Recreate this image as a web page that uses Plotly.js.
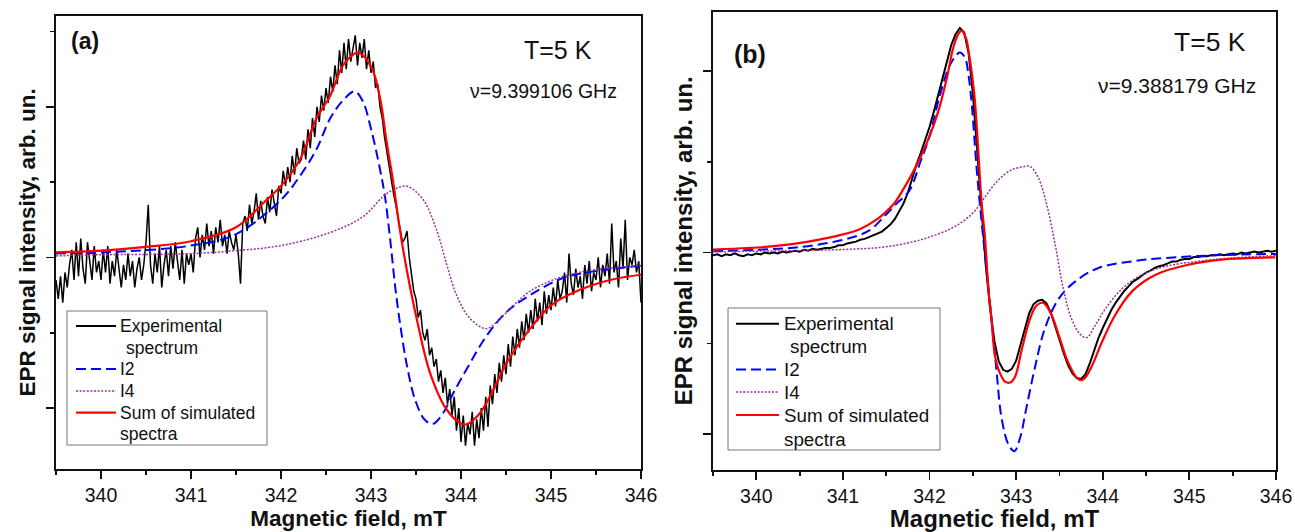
<!DOCTYPE html>
<html>
<head>
<meta charset="utf-8">
<script src="https://cdn.plot.ly/plotly-3.0.1.min.js"></script>
<style>
html,body{margin:0;padding:0;background:#fff;}
#chart{width:1295px;height:532px;}
</style>
</head>
<body>
<div id="chart"></div>
<script>
// ---------------- Panel (a) data ----------------
// experimental spectrum (a): field starts at 339.5 mT, step 0.025 mT
const expA = [
 -0.30,-0.55,-0.25,-0.60,-0.20,-0.40,-0.10, 0.10,-0.30, 0.20,
 -0.25, 0.25,-0.15,-0.35, 0.20,-0.10,-0.30, 0.15,-0.20,-0.05,
 -0.30, 0.10,-0.20, 0.15,-0.35,-0.05,-0.25, 0.10,-0.15,-0.40,
 -0.10,-0.30, 0.05,-0.25,-0.05,-0.40,-0.15, 0.00,-0.30,-0.10,
  0.20, 0.70,-0.10,-0.35, 0.05,-0.20, 0.15,-0.40,-0.10, 0.10,
 -0.25, 0.15,-0.15, 0.20,-0.05,-0.30, 0.10,-0.35, 0.05,-0.10,
  0.05,-0.20, 0.25, 0.40, 0.00, 0.30, 0.10, 0.45, 0.15, 0.35,
  0.05, 0.40, 0.20, 0.50, 0.15, 0.30, 0.05, 0.35, 0.20, 0.10,
  0.30, 0.05,-0.35, 0.45, 0.55, 0.35, 0.70, 0.45, 0.60, 0.85,
  0.50, 0.75, 0.55, 0.45, 0.80, 0.60, 0.90, 0.70, 0.55, 0.95,
  0.85, 1.15, 0.95, 1.20, 1.00, 1.35, 1.10, 1.45, 1.25, 1.30,
  1.55, 1.30, 1.70, 1.45, 1.85, 1.60, 2.00, 1.80, 2.15, 1.95,
  2.25, 2.05, 2.40, 2.20, 2.55, 2.30, 2.75, 2.45, 2.85, 2.50,
  2.90, 2.60, 2.80, 2.95, 2.55, 2.85, 2.65, 2.90, 2.50, 2.75,
  2.45, 2.60, 2.25, 2.30, 2.00, 1.85, 1.60, 1.40, 1.25, 1.05,
  0.85, 0.70, 0.55, 0.35, 0.20, 0.25, 0.35, 0.00,-0.25,-0.45,
 -0.55,-0.80,-0.70,-1.00,-1.10,-0.95,-1.30,-1.20,-1.45,-1.35,
 -1.65,-1.50,-1.80,-1.60,-1.95,-1.75,-2.10,-1.85,-2.30,-2.00,
 -2.45,-2.10,-2.50,-2.20,-2.35,-2.05,-2.50,-2.15,-2.40,-2.00,
 -2.30,-1.85,-2.25,-1.70,-1.95,-1.55,-1.80,-1.40,-1.65,-1.30,
 -1.55,-1.15,-1.45,-1.05,-1.30,-0.95,-1.20,-0.85,-1.10,-0.75,
 -1.00,-0.70,-0.95,-0.55,-0.85,-0.60,-0.90,-0.45,-0.75,-0.50,
 -0.70,-0.40,-0.65,-0.30,-0.55,-0.45,-0.20,-0.60, 0.05,-0.35,
 -0.50,-0.15,-0.40,-0.25,-0.55,-0.10,-0.35,-0.05,-0.45,-0.20,
 -0.30, 0.00,-0.40,-0.10,-0.25, 0.05,-0.35, 0.45,-0.20,-0.05,
 -0.40, 0.25,-0.15, 0.50,-0.30, 0.00,-0.10, 0.10,-0.20,-0.05,-0.60
];
const fieldA_I2 = [339.5,340.0,341.0,341.5,342.0,342.21,342.396,342.544,342.7,342.82,342.91,343.0,343.1,343.155,343.21,343.27,343.32,343.4,343.49,343.6,343.69,343.8,343.915,344.06,344.285,344.51,344.77,345.14,345.51,346.0];
const valA_I2   = [0.053,0.066,0.157,0.31,0.765,1.08,1.44,1.84,2.10,2.205,2.07,1.71,1.17,0.81,0.27,-0.40,-0.855,-1.44,-1.89,-2.16,-2.21,-2.07,-1.80,-1.49,-1.04,-0.72,-0.50,-0.27,-0.18,-0.11];
const fieldA_I4 = [339.5,340.0,341.0,341.5,342.0,342.544,342.91,343.136,343.25,343.4,343.58,343.73,343.84,343.95,344.1,344.285,344.47,344.766,345.14,345.51,346.0];
const valA_I4   = [0.02,0.035,0.05,0.09,0.157,0.33,0.54,0.81,0.90,0.945,0.765,0.36,-0.09,-0.50,-0.81,-0.946,-0.77,-0.45,-0.25,-0.16,-0.11];
const fieldA_Sum = [339.5,340.0,340.5,341.0,341.5,341.84,342.0,342.21,342.396,342.544,342.7,342.859,343.007,343.1,343.174,343.248,343.322,343.414,343.507,343.655,343.84,344.007,344.063,344.21,344.396,344.507,344.766,345.007,345.322,345.692,346.0];
const valA_Sum   = [0.066,0.09,0.14,0.215,0.40,0.765,0.95,1.30,1.85,2.14,2.57,2.72,2.52,2.12,1.53,0.99,0.36,-0.27,-0.81,-1.53,-2.02,-2.21,-2.215,-2.07,-1.67,-1.40,-0.95,-0.63,-0.43,-0.29,-0.23];

// ---------------- Panel (b) data ----------------
// experimental spectrum (b): field starts at 339.5 mT, step 0.05 mT
const expB = [
 -0.03,-0.02,-0.04,-0.02,-0.03,-0.01,-0.03,-0.04,-0.02,-0.03,
 -0.01,-0.02, 0.00,-0.01, 0.00,-0.01, 0.01, 0.00, 0.01, 0.02,
  0.01, 0.03, 0.02, 0.04, 0.03, 0.04, 0.05, 0.05, 0.06, 0.08,
  0.08, 0.10, 0.11, 0.12, 0.14, 0.15, 0.17, 0.19, 0.21, 0.23,
  0.27, 0.31, 0.37, 0.45, 0.54, 0.66, 0.83, 0.97, 1.10, 1.24,
  1.38, 1.55, 1.73, 1.92, 2.12, 2.28, 2.40, 2.47, 2.42, 2.20,
  1.75, 1.10, 0.45,-0.15,-0.62,-0.98,-1.20,-1.29,-1.31,-1.28,
 -1.19,-1.02,-0.83,-0.67,-0.57,-0.53,-0.52,-0.56,-0.66,-0.80,
 -0.96,-1.11,-1.24,-1.33,-1.38,-1.39,-1.34,-1.22,-1.07,-0.94,
 -0.83,-0.73,-0.63,-0.55,-0.48,-0.42,-0.37,-0.32,-0.29,-0.25,
 -0.22,-0.20,-0.17,-0.15,-0.14,-0.12,-0.10,-0.10,-0.08,-0.07,
 -0.07,-0.05,-0.05,-0.04,-0.04,-0.03,-0.03,-0.02,-0.03,-0.02,
 -0.01,-0.02, 0.00,-0.01, 0.00, 0.01, 0.00, 0.01, 0.02, 0.01, 0.02
];
const fieldB_I2 = [339.5,340.0,340.5,341.0,341.3,341.47,341.6,341.77,341.89,342.0,342.12,342.24,342.35,342.41,342.45,342.49,342.545,342.6,342.66,342.72,342.776,342.83,342.91,342.98,343.045,343.12,343.22,343.33,343.49,343.68,343.95,344.335,344.72,345.3,346.0];
const valB_I2   = [0.015,0.03,0.06,0.14,0.24,0.39,0.52,0.686,0.985,1.28,1.73,2.07,2.20,2.14,1.95,1.60,0.91,0.35,-0.21,-0.77,-1.33,-1.81,-2.11,-2.186,-2.04,-1.70,-1.25,-0.84,-0.51,-0.32,-0.17,-0.097,-0.06,-0.03,-0.015];
const fieldB_I4 = [339.5,340.0,341.0,341.47,341.77,342.0,342.24,342.41,342.525,342.64,342.795,342.95,343.064,343.16,343.257,343.35,343.45,343.545,343.64,343.74,343.815,343.91,344.03,344.22,344.45,344.72,345.1,345.49,346.0];
const valB_I4   = [0.008,0.015,0.033,0.06,0.11,0.17,0.26,0.36,0.46,0.61,0.80,0.91,0.94,0.947,0.82,0.537,0.09,-0.40,-0.73,-0.90,-0.936,-0.805,-0.62,-0.40,-0.246,-0.153,-0.097,-0.06,-0.035];
const fieldB_Sum = [339.5,339.9,340.2,340.6,341.0,341.2,341.4,341.5,341.6,341.7,341.8,341.9,342.0,342.1,342.2,342.27,342.32,342.37,342.42,342.46,342.49,342.525,342.564,342.602,342.64,342.68,342.718,342.756,342.814,342.872,342.93,342.987,343.064,343.16,343.238,343.315,343.41,343.507,343.603,343.719,343.777,343.873,343.988,344.142,344.335,344.604,344.989,345.374,345.99];
const valB_Sum   = [0.033,0.05,0.07,0.12,0.20,0.26,0.37,0.45,0.55,0.70,0.87,1.06,1.28,1.55,1.92,2.24,2.38,2.44,2.36,2.16,1.96,1.656,1.097,0.537,0.164,-0.396,-0.77,-1.14,-1.33,-1.42,-1.43,-1.365,-1.07,-0.73,-0.58,-0.555,-0.69,-0.955,-1.215,-1.395,-1.395,-1.25,-0.99,-0.69,-0.43,-0.246,-0.134,-0.078,-0.053];

// ---------------- text ----------------
const xTitle = 'Magnetic field, mT';
const yTitle = 'EPR signal intensity, arb. un.';
const legendNames = ['Experimental', ' spectrum', 'I2', 'I4', 'Sum of simulated', 'spectra'];
const panelLabels = ['(a)', '(b)'];
const tempLabel = 'T=5 K';
const freqLabels = ['\u03bd=9.399106 GHz', '\u03bd=9.388179 GHz'];

// ---------------- styling ----------------
const W = 1295, H = 532;
const FONT = '"Liberation Sans", Arial, Helvetica, sans-serif';
const INK = '#111111';
const C_EXP = '#000000', C_I2 = '#0000ff', C_I4 = '#9b2f9b', C_SUM = '#ff0000';
const DASH_I2 = '10px,5px', DASH_I4 = '2px,1.6px';
const px = v => v / W;
const py = v => 1 - v / H;

function xAxis(domain, anchor, titleSize, standoff){
  return {
    domain: domain, anchor: anchor, range: [339.5, 346], autorange: false,
    tick0: 340, dtick: 1, ticks: 'outside', ticklen: 8, tickwidth: 1.8, tickcolor: INK,
    showline: true, linewidth: 1.8, linecolor: INK, mirror: true,
    showgrid: false, zeroline: false, automargin: false,
    tickfont: {family: FONT, size: 19.5, color: INK},
    minor: {dtick: 0.5, tick0: 340, ticks: 'outside', ticklen: 4, tickwidth: 1.8, tickcolor: INK, showgrid: false},
    title: {text: '<b>' + xTitle + '</b>', font: {family: FONT, size: titleSize, color: INK}, standoff: standoff}
  };
}
function yAxis(domain, anchor, range, titleSize){
  return {
    domain: domain, anchor: anchor, range: range, autorange: false,
    tick0: 0, dtick: 2, ticks: 'outside', ticklen: 8, tickwidth: 1.8, tickcolor: INK,
    showticklabels: false,
    showline: true, linewidth: 1.8, linecolor: INK, mirror: true,
    showgrid: false, zeroline: false, automargin: false,
    minor: {dtick: 1, tick0: 0, ticks: 'outside', ticklen: 4, tickwidth: 1.8, tickcolor: INK, showgrid: false},
    title: {text: '<b>' + yTitle + '</b>', font: {family: FONT, size: titleSize, color: INK}, standoff: 4}
  };
}

const traces = [
  {x0: 339.5, dx: 0.025, y: expA, xaxis: 'x', yaxis: 'y', mode: 'lines', name: 'Experimental spectrum',
   line: {color: C_EXP, width: 1.5}, showlegend: false},
  {x: fieldA_I2, y: valA_I2, xaxis: 'x', yaxis: 'y', mode: 'lines', name: 'I2',
   line: {color: C_I2, width: 2, dash: DASH_I2, shape: 'spline', smoothing: 1}, showlegend: false},
  {x: fieldA_I4, y: valA_I4, xaxis: 'x', yaxis: 'y', mode: 'lines', name: 'I4',
   line: {color: C_I4, width: 1.5, dash: DASH_I4, shape: 'spline', smoothing: 1}, showlegend: false},
  {x: fieldA_Sum, y: valA_Sum, xaxis: 'x', yaxis: 'y', mode: 'lines', name: 'Sum of simulated spectra',
   line: {color: C_SUM, width: 2.2, shape: 'spline', smoothing: 1}, showlegend: false},

  {x0: 339.5, dx: 0.05, y: expB, xaxis: 'x2', yaxis: 'y2', mode: 'lines', name: 'Experimental spectrum',
   line: {color: C_EXP, width: 2}, showlegend: false},
  {x: fieldB_I2, y: valB_I2, xaxis: 'x2', yaxis: 'y2', mode: 'lines', name: 'I2',
   line: {color: C_I2, width: 2, dash: DASH_I2, shape: 'spline', smoothing: 1}, showlegend: false},
  {x: fieldB_I4, y: valB_I4, xaxis: 'x2', yaxis: 'y2', mode: 'lines', name: 'I4',
   line: {color: C_I4, width: 1.5, dash: DASH_I4, shape: 'spline', smoothing: 1}, showlegend: false},
  {x: fieldB_Sum, y: valB_Sum, xaxis: 'x2', yaxis: 'y2', mode: 'lines', name: 'Sum of simulated spectra',
   line: {color: C_SUM, width: 2.2, shape: 'spline', smoothing: 1}, showlegend: false}
];

// manual legend boxes (pixel geometry converted to paper coords)
const shapes = [];
const annotations = [];
function legendBox(box, sx0, sx1, tx, indent, ys, fsize){
  shapes.push({type: 'rect', xref: 'paper', yref: 'paper', x0: px(box[0]), x1: px(box[1]), y0: py(box[3]), y1: py(box[2]),
               line: {color: '#777777', width: 1}, fillcolor: 'rgba(255,255,255,0)', layer: 'above'});
  const styles = [
    {color: C_EXP, width: 2, dash: 'solid', row: 0},
    {color: C_I2, width: 2, dash: DASH_I2, row: 2},
    {color: C_I4, width: 1.5, dash: DASH_I4, row: 3},
    {color: C_SUM, width: 2.2, dash: 'solid', row: 4}
  ];
  styles.forEach(s => shapes.push({type: 'line', xref: 'paper', yref: 'paper', x0: px(sx0), x1: px(sx1),
    y0: py(ys[s.row]), y1: py(ys[s.row]), line: {color: s.color, width: s.width, dash: s.dash}, layer: 'above'}));
  legendNames.forEach((t, i) => annotations.push({
    text: t.replace(/^ /, ''), xref: 'paper', yref: 'paper', x: px(i === 1 ? tx + indent : tx), y: py(ys[i]),
    xanchor: 'left', yanchor: 'middle', showarrow: false, borderpad: 0,
    font: {family: FONT, size: fsize, color: INK}}));
}
legendBox([67, 267, 311, 445], 76, 116, 119, 5.5, [326, 347.5, 369, 391, 412.6, 434], 17.5);
legendBox([728, 940, 308, 450], 736, 779, 783, 5.5, [323.7, 346.5, 369.5, 392, 415, 439], 18.8);

function note(text, x, y, size){
  annotations.push({text: text, xref: 'paper', yref: 'paper', x: px(x), y: py(y), xanchor: 'center', yanchor: 'middle',
    showarrow: false, borderpad: 0, font: {family: FONT, size: size, color: INK}});
}
note('<b>' + panelLabels[0] + '</b>', 85, 41, 23);
note(tempLabel, 558, 49.5, 25);
note(freqLabels[0], 543.6, 91, 19.5);
note('<b>' + panelLabels[1] + '</b>', 750, 54, 25);
note(tempLabel, 1209.5, 42, 26.5);
note(freqLabels[1], 1177, 86, 21);

const layout = {
  width: W, height: H,
  margin: {l: 0, r: 0, t: 0, b: 0, pad: 0},
  paper_bgcolor: '#ffffff', plot_bgcolor: '#ffffff',
  showlegend: false,
  font: {family: FONT, color: INK},
  xaxis: xAxis([56 / W, 641 / W], 'y', 22.5, 3),
  yaxis: yAxis([(H - 469) / H, (H - 15.7) / H], 'x', [-2.81, 3.21], 22.5),
  xaxis2: xAxis([713 / W, 1276 / W], 'y2', 24, 9),
  yaxis2: yAxis([(H - 470) / H, (H - 11.7) / H], 'x2', [-2.392, 2.649], 24),
  shapes: shapes,
  annotations: annotations
};

Plotly.newPlot('chart', traces, layout, {staticPlot: true, displayModeBar: false});
</script>
</body>
</html>
